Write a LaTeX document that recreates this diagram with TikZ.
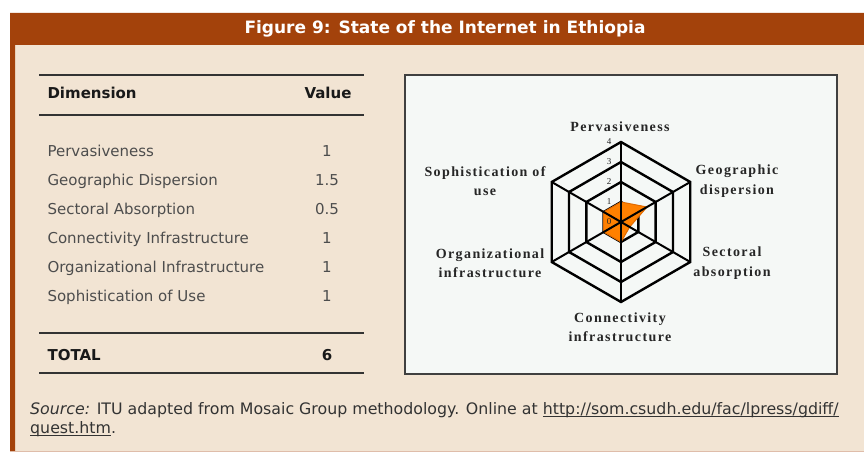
\documentclass[tikz,border=0pt]{standalone}
\usepackage{fontspec}
\setmainfont{DejaVu Sans}
\newfontfamily\chartfont[LetterSpace=10]{Liberation Serif}
\definecolor{rust}{HTML}{A3420B}
\definecolor{sand}{HTML}{F2E4D3}
\definecolor{ink}{HTML}{4D4D4D}
\definecolor{paper}{HTML}{F5F8F6}
\definecolor{radar}{HTML}{FF8000}
\definecolor{radaredge}{HTML}{E06A00}
\newcommand\linkul[1]{\setbox0\hbox{#1}\rlap{\vrule height -1.6pt depth 2.6pt width \wd0}\box0}

\begin{document}
\begin{tikzpicture}[x=1pt,y=-1pt,
  title/.style={text=white,font=\bfseries\fontsize{17}{20}\selectfont},
  head/.style={text=black!90,font=\bfseries\fontsize{15}{18}\selectfont,text height=11pt,text depth=0pt},
  row/.style={text=ink,font=\fontsize{15}{18}\selectfont,text height=11pt,text depth=0pt},
  tabrule/.style={draw=black!80,line width=1.6pt},
  ring/.style={draw=black,line width=2.4pt},
  spoke/.style={draw=black,line width=2pt},
  tick/.style={font=\chartfont\fontsize{9}{9}\selectfont,text=black!85,inner sep=0pt},
  axislab/.style={font=\chartfont\bfseries\fontsize{14}{19.5}\selectfont,align=center,text=black!85,inner sep=0pt},
  src/.style={font=\fontsize{15.8}{19}\selectfont,text=black!80,align=left,inner sep=3pt}]

\useasboundingbox (0,0) rectangle (864,454);
\fill[white] (0,0) rectangle (864,454);
\fill[sand] (10,13) rectangle (864,451);
\fill[rust] (10,13) rectangle (864,45) (10,13) rectangle (15,451);
\draw[rust!35,line width=1pt] (10,451) -- (864,451);
\node[title] (ttl) at (445,29) {Figure 9: State of the Internet in Ethiopia};

\foreach \y in {75,115,333,373}
\draw[tabrule] (39,\y) -- (364,\y);
\node[head,anchor=west] (dim) at (44,93) {Dimension};
\node[head,anchor=east] (val) at (355,93) {Value};
\foreach \lab/\v [count=\i] in {Pervasiveness/1,Geographic Dispersion/1.5,Sectoral Absorption/0.5,Connectivity Infrastructure/1,Organizational Infrastructure/1,Sophistication of Use/1}{
\node[row,anchor=west] (dim\i) at (44,122+29*\i) {\lab};
\node[row] (val\i) at (327,122+29*\i) {\v};
}
\node[head,anchor=west] (tot) at (44,355) {TOTAL};
\node[head] (totv) at (327,355) {6};

\draw[draw=black!75,line width=1.8pt,fill=paper] (405,75) rectangle (837,374);
\begin{scope}[shift={(621,222)},x=20pt,y=20pt]
\foreach \r in {1,...,4}
\draw[ring] (90:\r) -- (30:\r) -- (-30:\r) -- (-90:\r) -- (-150:\r) -- (150:\r) -- cycle;
\fill[radar,draw=radaredge,line width=1pt] (90:1) -- (30:1.5) -- (-30:0.5) -- (-90:1) -- (-150:1) -- (150:1) -- cycle;
\foreach \a in {90,30,-30,-90,-150,150}
\draw[spoke] (0,0) -- (\a:4);
\foreach \v in {0,...,4}
\node[tick] (t\v) at (-0.6,\v) {\v};
\end{scope}
\node[axislab] (perv) at (620,127) {Pervasiveness};
\node[axislab] (geo) at (737,181) {Geographic\\dispersion};
\node[axislab] (sect) at (732,263) {Sectoral\\absorption};
\node[axislab] (conn) at (620,327) {Connectivity\\infrastructure};
\node[axislab] (org) at (490,263) {Organizational\\infrastructure};
\node[axislab] (soph) at (485,181) {Sophistication of\\use};

\node[src,anchor=north west] (srce) at (27,399) {\textit{Source:} ITU adapted from Mosaic Group methodology. Online at \linkul{http://som.csudh.edu/fac/lpress/gdiff/}\\\linkul{quest.htm}.};
\end{tikzpicture}
\end{document}
